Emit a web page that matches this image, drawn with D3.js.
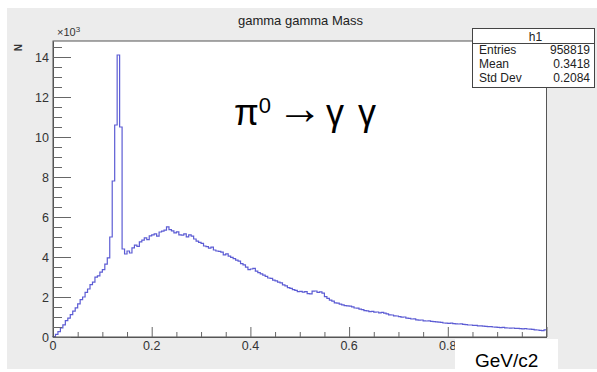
<!DOCTYPE html>
<html>
<head>
<meta charset="utf-8">
<script src="https://cdn.jsdelivr.net/npm/d3@7"></script>
<style>
  body { margin: 0; background: #fff; }
  text { font-family: "Liberation Sans", Arial, sans-serif; }
</style>
</head>
<body>
<div id="chart"></div>
<script>
// histogram h1: 200 bins over 0..1 GeV/c2, counts per bin
let binLow = 0;
let binHigh = 1;
let binCounts = [
  20, 130, 270, 460, 610, 820, 940, 1120, 1290, 1460,
  1660, 1870, 2000, 2230, 2400, 2620, 2740, 2990, 3060, 3240,
  3370, 3640, 3960, 5000, 7800, 10600, 14100, 10500, 4400, 4150,
  4300, 4200, 4460, 4590, 4530, 4760, 4840, 4960, 4870, 5060,
  5110, 5160, 5040, 5250, 5290, 5340, 5510, 5370, 5310, 5210,
  5260, 5110, 5090, 5160, 5010, 5110, 5040, 4900, 4790, 4730,
  4680, 4550, 4520, 4440, 4490, 4350, 4300, 4280, 4240, 4110,
  4160, 4040, 3980, 3920, 3840, 3790, 3670, 3610, 3490, 3370,
  3400, 3430, 3290, 3220, 3160, 3090, 3030, 2950, 2930, 2840,
  2810, 2740, 2710, 2610, 2560, 2470, 2430, 2370, 2330, 2270,
  2280, 2240, 2270, 2170, 2160, 2290, 2300, 2230, 2260, 2190,
  2020, 1930, 1840, 1790, 1710, 1690, 1640, 1610, 1570, 1560,
  1540, 1510, 1450, 1440, 1390, 1370, 1320, 1310, 1270, 1280,
  1240, 1250, 1210, 1230, 1190, 1160, 1110, 1100, 1060, 1050,
  1020, 990, 1000, 940, 930, 900, 910, 860, 840, 850,
  810, 800, 810, 780, 770, 760, 740, 730, 700, 690,
  680, 690, 670, 660, 650, 660, 630, 620, 600, 600,
  580, 580, 560, 560, 540, 530, 520, 520, 500, 490,
  480, 470, 480, 460, 450, 440, 450, 430, 430, 420,
  410, 420, 400, 390, 380, 360, 350, 330, 320, 360
];

let xTicks = [0, 0.2, 0.4, 0.6, 0.8];
let xTickLabels = ["0", "0.2", "0.4", "0.6", "0.8"];
let yTicks = [0, 2000, 4000, 6000, 8000, 10000, 12000, 14000];
let yTickLabels = ["0", "2", "4", "6", "8", "10", "12", "14"];

let statNames = ["Entries", "Mean", "Std Dev"];
let statValues = ["958819", "0.3418", "0.2084"];

// overall size
let svgWidth = 597;
let svgHeight = 372;

// frame of the pad
let frame = { left: 53, top: 41, right: 546.5, bottom: 337 };

let svg = d3.select("#chart")
  .append("svg")
  .attr("width", svgWidth)
  .attr("height", svgHeight);

// grey canvas
svg.append("rect")
  .attr("x", 7).attr("y", 8)
  .attr("width", svgWidth - 7).attr("height", 361)
  .attr("fill", "#ececec");

// white frame area
svg.append("rect")
  .attr("x", frame.left).attr("y", frame.top)
  .attr("width", frame.right - frame.left)
  .attr("height", frame.bottom - frame.top)
  .attr("fill", "#fff");

let xScale = d3.scaleLinear()
  .domain([binLow, binHigh])
  .range([frame.left, frame.right]);

let yScale = d3.scaleLinear()
  .domain([0, 14800])
  .range([frame.bottom, frame.top]);

// histogram as a step line
let binWidth = (binHigh - binLow) / binCounts.length;
let stepPoints = [[binLow, 0]];
binCounts.forEach(function(c, i) {
  stepPoints.push([binLow + i * binWidth, c]);
  stepPoints.push([binLow + (i + 1) * binWidth, c]);
});

let line = d3.line()
  .x(d => xScale(d[0]))
  .y(d => yScale(d[1]));

svg.append("path")
  .datum(stepPoints)
  .attr("d", line)
  .attr("fill", "none")
  .attr("stroke", "#5c5cd4")
  .attr("stroke-width", 1.2);

// frame border
svg.append("rect")
  .attr("x", frame.left).attr("y", frame.top)
  .attr("width", frame.right - frame.left)
  .attr("height", frame.bottom - frame.top)
  .attr("fill", "none")
  .attr("stroke", "#555")
  .attr("stroke-width", 1);

// x axis: major ticks every 0.2, minor every 0.05, drawn inward
let xAxis = svg.append("g")
  .attr("transform", `translate(0,${frame.bottom})`)
  .call(d3.axisBottom(xScale)
    .tickValues(d3.range(0, 1.0001, 0.05))
    .tickSize(-5)
    .tickSizeOuter(0)
    .tickFormat(""));
xAxis.select(".domain").attr("stroke", "#555");
xAxis.selectAll(".tick line")
  .attr("stroke", "#666")
  .attr("y2", (d, i) => i % 4 === 0 ? -10 : -5);

xTicks.forEach(function(t, i) {
  svg.append("text")
    .attr("x", xScale(t))
    .attr("y", 350)
    .attr("text-anchor", "middle")
    .attr("font-size", "12.5px")
    .attr("fill", "#333")
    .text(xTickLabels[i]);
});

// y axis: major every 2k, minor every 0.5k
let yAxis = svg.append("g")
  .attr("transform", `translate(${frame.left},0)`)
  .call(d3.axisLeft(yScale)
    .tickValues(d3.range(0, 14800, 500))
    .tickSize(-9)
    .tickSizeOuter(0)
    .tickFormat(""));
yAxis.select(".domain").attr("stroke", "#555");
yAxis.selectAll(".tick line")
  .attr("stroke", "#666")
  .attr("x2", (d, i) => i % 4 === 0 ? 18 : 9);

yTicks.forEach(function(t, i) {
  svg.append("text")
    .attr("x", 49)
    .attr("y", yScale(t) + 4.5)
    .attr("text-anchor", "end")
    .attr("font-size", "12.5px")
    .attr("fill", "#333")
    .text(yTickLabels[i]);
});

// exponent label
let expLabel = svg.append("text")
  .attr("x", 57)
  .attr("y", 36)
  .attr("font-size", "11px")
  .attr("fill", "#333");
expLabel.append("tspan").text("\u00d710");
expLabel.append("tspan").attr("dy", -4).attr("font-size", "8px").text("3");

// y title
svg.append("text")
  .attr("transform", "translate(22,44) rotate(-90)")
  .attr("text-anchor", "end")
  .attr("font-size", "10px")
  .attr("font-weight", "bold")
  .attr("fill", "#333")
  .text("N");

// title
svg.append("text")
  .attr("x", 300.5)
  .attr("y", 25)
  .attr("text-anchor", "middle")
  .attr("font-size", "13px")
  .attr("fill", "#222")
  .text("gamma gamma Mass");

// stats box
let statBox = svg.append("g");
statBox.append("rect")
  .attr("x", 472.5).attr("y", 28.5)
  .attr("width", 122).attr("height", 59)
  .attr("fill", "#fff")
  .attr("stroke", "#444");
statBox.append("line")
  .attr("x1", 472.5).attr("x2", 594.5)
  .attr("y1", 43.5).attr("y2", 43.5)
  .attr("stroke", "#444");
statBox.append("text")
  .attr("x", 535.5).attr("y", 40.5)
  .attr("text-anchor", "middle")
  .attr("font-size", "12px")
  .attr("fill", "#222")
  .text("h1");
statNames.forEach(function(name, i) {
  statBox.append("text")
    .attr("x", 479).attr("y", 53.5 + i * 14)
    .attr("font-size", "12px")
    .attr("fill", "#222")
    .text(name);
  statBox.append("text")
    .attr("x", 590).attr("y", 53.5 + i * 14)
    .attr("text-anchor", "end")
    .attr("font-size", "12px")
    .attr("fill", "#222")
    .text(statValues[i]);
});

// annotation pi0 -> gamma gamma
let noteFont = "'Noto Sans', sans-serif";
let pi0 = svg.append("text")
  .attr("x", 234)
  .attr("y", 125)
  .attr("font-family", noteFont)
  .attr("font-size", "36px")
  .attr("fill", "#000");
pi0.append("tspan").text("\u03c0");
pi0.append("tspan").attr("dy", -12).attr("font-size", "22px").text("0");

svg.append("text")
  .attr("x", 277)
  .attr("y", 124)
  .attr("font-family", "'DejaVu Sans', sans-serif")
  .attr("font-size", "46px")
  .attr("fill", "#000")
  .text("\u2192");

svg.append("text")
  .attr("x", 326)
  .attr("y", 125)
  .attr("font-family", noteFont)
  .attr("font-size", "36px")
  .attr("fill", "#000")
  .text("\u03b3");

svg.append("text")
  .attr("x", 358)
  .attr("y", 125)
  .attr("font-family", noteFont)
  .attr("font-size", "36px")
  .attr("fill", "#000")
  .text("\u03b3");

// unit label box
svg.append("rect")
  .attr("x", 455).attr("y", 339)
  .attr("width", 103).attr("height", 33)
  .attr("fill", "#fff");
svg.append("text")
  .attr("x", 475)
  .attr("y", 367)
  .attr("font-family", noteFont)
  .attr("font-size", "19px")
  .attr("fill", "#000")
  .text("GeV/c2");
</script>
</body>
</html>
